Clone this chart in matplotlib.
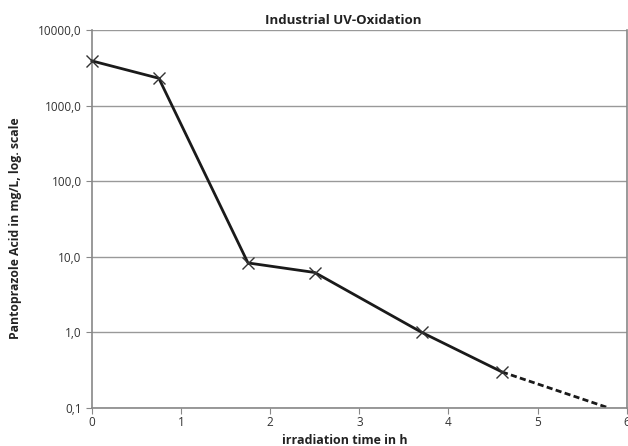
import matplotlib.pyplot as plt
from matplotlib.ticker import FixedLocator, FuncFormatter

# measured points (h, mg/L)
time_h = [0.0, 0.75, 1.75, 2.5, 3.7, 4.6]
conc = [3900.0, 2300.0, 8.3, 6.2, 1.0, 0.30]
# dashed extrapolation
ext_time = [4.6, 5.8]
ext_conc = [0.30, 0.10]

yticks = [0.1, 1, 10, 100, 1000, 10000]
xticks = [0, 1, 2, 3, 4, 5, 6]

plt.rcParams['font.family'] = ['Open Sans', 'DejaVu Sans']
fig = plt.figure(figsize=(6.28, 4.46), dpi=100)
ax = fig.add_axes([0.1465, 0.0852, 0.8515, 0.8475])

ax.plot(ext_time, ext_conc, color='#1a1a1a', lw=2, ls=(0, (2.2, 1.2)), clip_on=True)
ax.plot(time_h, conc, color='#1a1a1a', lw=2, marker='x', ms=9, mew=1.0,
        mec='#333333', clip_on=False, zorder=3)

ax.set_yscale('log')
ax.set_ylim(0.1, 10000)
ax.set_xlim(0, 6)
ax.yaxis.set_major_locator(FixedLocator(yticks))
ax.yaxis.set_minor_locator(FixedLocator([]))
ax.yaxis.set_major_formatter(FuncFormatter(lambda v, p: f'{v:.1f}'.replace('.', ',')))
ax.set_xticks(xticks)

ax.grid(axis='y', color='#999999', lw=1)
ax.set_axisbelow(True)
for s in ax.spines.values():
    s.set_color('#888888')
    s.set_linewidth(1.2)
ax.spines['top'].set_visible(False)
ax.tick_params(direction='out', length=4, color='#888888', labelsize=8.5,
               labelcolor='#333333')
ax.tick_params(axis='x', pad=2)

# titles placed like the excel chart (centred on the chart, not the plot box)
fig.text(343 / 628, 1 - 20 / 446, 'Industrial UV-Oxidation', fontsize=9.5,
         fontweight='bold', color='#222222', ha='center', va='center')
fig.text(345 / 628, 1 - 441 / 446, 'irradiation time in h', fontsize=9,
         fontweight='bold', color='#222222', ha='center', va='center')
fig.text(16 / 628, 1 - 228 / 446, 'Pantoprazole Acid in mg/L, log. scale',
         fontsize=8.8, fontweight='bold', color='#222222', ha='center',
         va='center', rotation=90)

fig.savefig('out.png', dpi=100)
